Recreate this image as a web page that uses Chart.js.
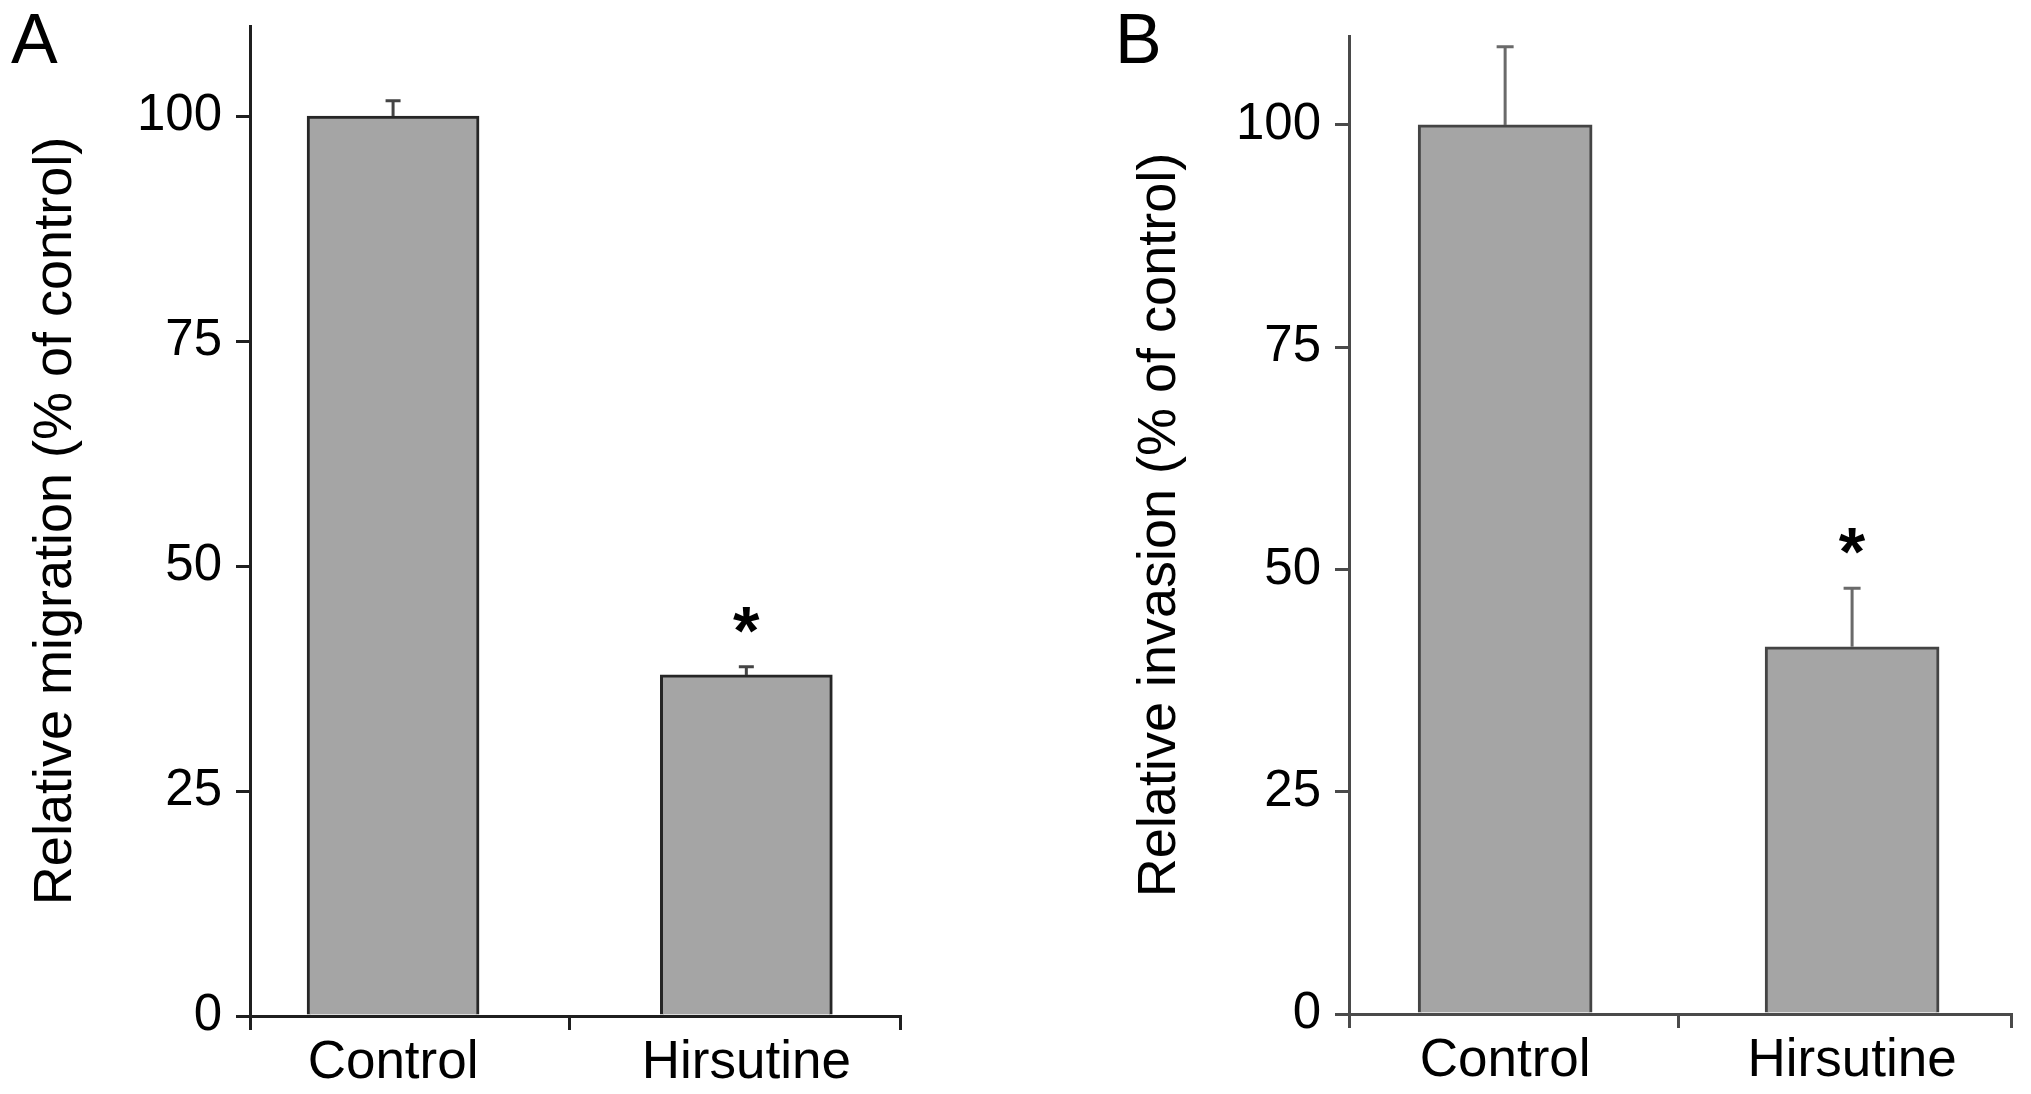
<!DOCTYPE html>
<html lang="en">
<head>
  <meta charset="UTF-8">
  <title>Relative migration and invasion</title>
  <script src="https://cdn.jsdelivr.net/npm/chart.js"></script>
  <style>
    html, body {
      margin: 0;
      padding: 0;
      background: #fff;
    }
    body {
      width: 2031px;
      height: 1094px;
      position: relative;
      overflow: hidden;
      font-family: "Liberation Sans", Arial, sans-serif;
    }
    .panel {
      position: absolute;
      top: 0;
      height: 1094px;
    }
    #panelA { left: 0; width: 1015px; }
    #panelB { left: 1015px; width: 1016px; }
    .letter {
      position: absolute;
      top: 4px;
      font-size: 70px;
      line-height: 70px;
      color: #000;
    }
  </style>
</head>
<body>
  <div class="letter" style="left: 11px;">A</div>
  <div class="letter" style="left: 1115px;">B</div>
  <div class="panel" id="panelA"><canvas id="migrationChart"></canvas></div>
  <div class="panel" id="panelB"><canvas id="invasionChart"></canvas></div>

  <script>
    // values
    const categories = ['Control', 'Hirsutine'];
    const migrationMeans = [100, 37.9];
    const migrationErrors = [1.7, 0.9];
    const invasionMeans = [100, 41.3];
    const invasionErrors = [8.8, 6.6];
    const significance = ['', '*'];
    const yTicks = [0, 25, 50, 75, 100];

    // draws the upper half of the error bars and the significance marks
    const errorBarPlugin = {
      id: 'errorBars',
      afterDatasetsDraw(chart, args, opts) {
        const ctx = chart.ctx;
        const y = chart.scales.y;
        const meta = chart.getDatasetMeta(0);
        ctx.save();
        meta.data.forEach((bar, i) => {
          const top = y.getPixelForValue(opts.means[i] + opts.errors[i]);
          ctx.strokeStyle = opts.color;
          ctx.lineWidth = 3;
          ctx.beginPath();
          ctx.moveTo(bar.x, bar.y);
          ctx.lineTo(bar.x, top);
          ctx.moveTo(bar.x - opts.cap / 2, top);
          ctx.lineTo(bar.x + opts.cap / 2, top);
          ctx.stroke();

          const mark = opts.marks[i];
          if (mark) {
            ctx.fillStyle = '#000';
            ctx.font = 'bold 68px "Liberation Sans", Arial, sans-serif';
            ctx.textAlign = 'center';
            ctx.textBaseline = 'alphabetic';
            const m = ctx.measureText(mark);
            const h = m.actualBoundingBoxAscent - m.actualBoundingBoxDescent;
            ctx.fillText(mark, bar.x, top - opts.markGap + h / 2);
          }
        });
        ctx.restore();
      }
    };

    function makeChart(canvasId, title, means, errors, p) {
      const points = means.map((v, i) => ({ x: i, y: v }));
      return new Chart(document.getElementById(canvasId), {
        type: 'bar',
        data: {
          datasets: [{
            data: points,
            backgroundColor: '#a5a5a5',
            borderColor: p.barBorder,
            borderWidth: 3,
            barThickness: p.barWidth
          }]
        },
        options: {
          responsive: true,
          maintainAspectRatio: false,
          animation: false,
          layout: {
            padding: { top: p.top, right: p.right, bottom: 0, left: 0 }
          },
          plugins: {
            legend: { display: false },
            tooltip: { enabled: false },
            errorBars: {
              means: means,
              errors: errors,
              marks: significance,
              color: p.errColor,
              cap: p.cap,
              markGap: 47
            }
          },
          scales: {
            x: {
              type: 'linear',
              offset: false,
              min: p.xMin,
              max: p.xMax,
              afterFit: s => {
                s.height = 1094 - p.bottom;
                s.paddingLeft = 0;
                s.paddingRight = 0;
              },
              afterBuildTicks: s => {
                s.ticks = [p.xMin, 0, 0.5, 1, p.xMax].map(v => ({ value: v }));
              },
              ticks: {
                autoSkip: false,
                maxRotation: 0,
                padding: 2,
                color: '#000',
                font: { family: '"Liberation Sans", Arial, sans-serif', size: 53 },
                callback: v => (Number.isInteger(v) ? categories[v] : '')
              },
              grid: {
                offset: false,
                drawOnChartArea: false,
                tickLength: 14,
                lineWidth: 3,
                tickColor: c => (c.tick && Number.isInteger(c.tick.value) ? 'rgba(0,0,0,0)' : p.axisColor)
              },
              border: { color: p.axisColor, width: 3 }
            },
            y: {
              min: 0,
              max: 110,
              afterFit: s => {
                s.width = p.axisX;
                s.paddingTop = 0;
                s.paddingBottom = 0;
              },
              afterBuildTicks: s => {
                s.ticks = yTicks.map(v => ({ value: v }));
              },
              ticks: {
                padding: 14,
                color: '#000',
                font: { family: '"Liberation Sans", Arial, sans-serif', size: 51 }
              },
              grid: {
                drawOnChartArea: false,
                tickLength: 14,
                lineWidth: 3,
                tickColor: p.axisColor
              },
              border: { color: p.axisColor, width: 3 },
              title: {
                display: true,
                text: title,
                color: '#000',
                font: { family: '"Liberation Sans", Arial, sans-serif', size: 54 },
                padding: { top: p.titlePad, bottom: 0 }
              }
            }
          }
        },
        plugins: [errorBarPlugin]
      });
    }

    makeChart('migrationChart', 'Relative migration (% of control)', migrationMeans, migrationErrors, {
      top: 26, right: 115, bottom: 1016, axisX: 250,
      xMin: -0.405, xMax: 1.435, barWidth: 172, cap: 15,
      barBorder: '#262626', axisColor: '#1f1f1f', errColor: '#444', titlePad: 24
    });

    makeChart('invasionChart', 'Relative invasion (% of control)', invasionMeans, invasionErrors, {
      top: 36, right: 20, bottom: 1014, axisX: 334,
      xMin: -0.45, xMax: 1.458, barWidth: 174, cap: 17,
      barBorder: '#444', axisColor: '#4a4a4a', errColor: '#6a6a6a', titlePad: 113
    });
  </script>
</body>
</html>
